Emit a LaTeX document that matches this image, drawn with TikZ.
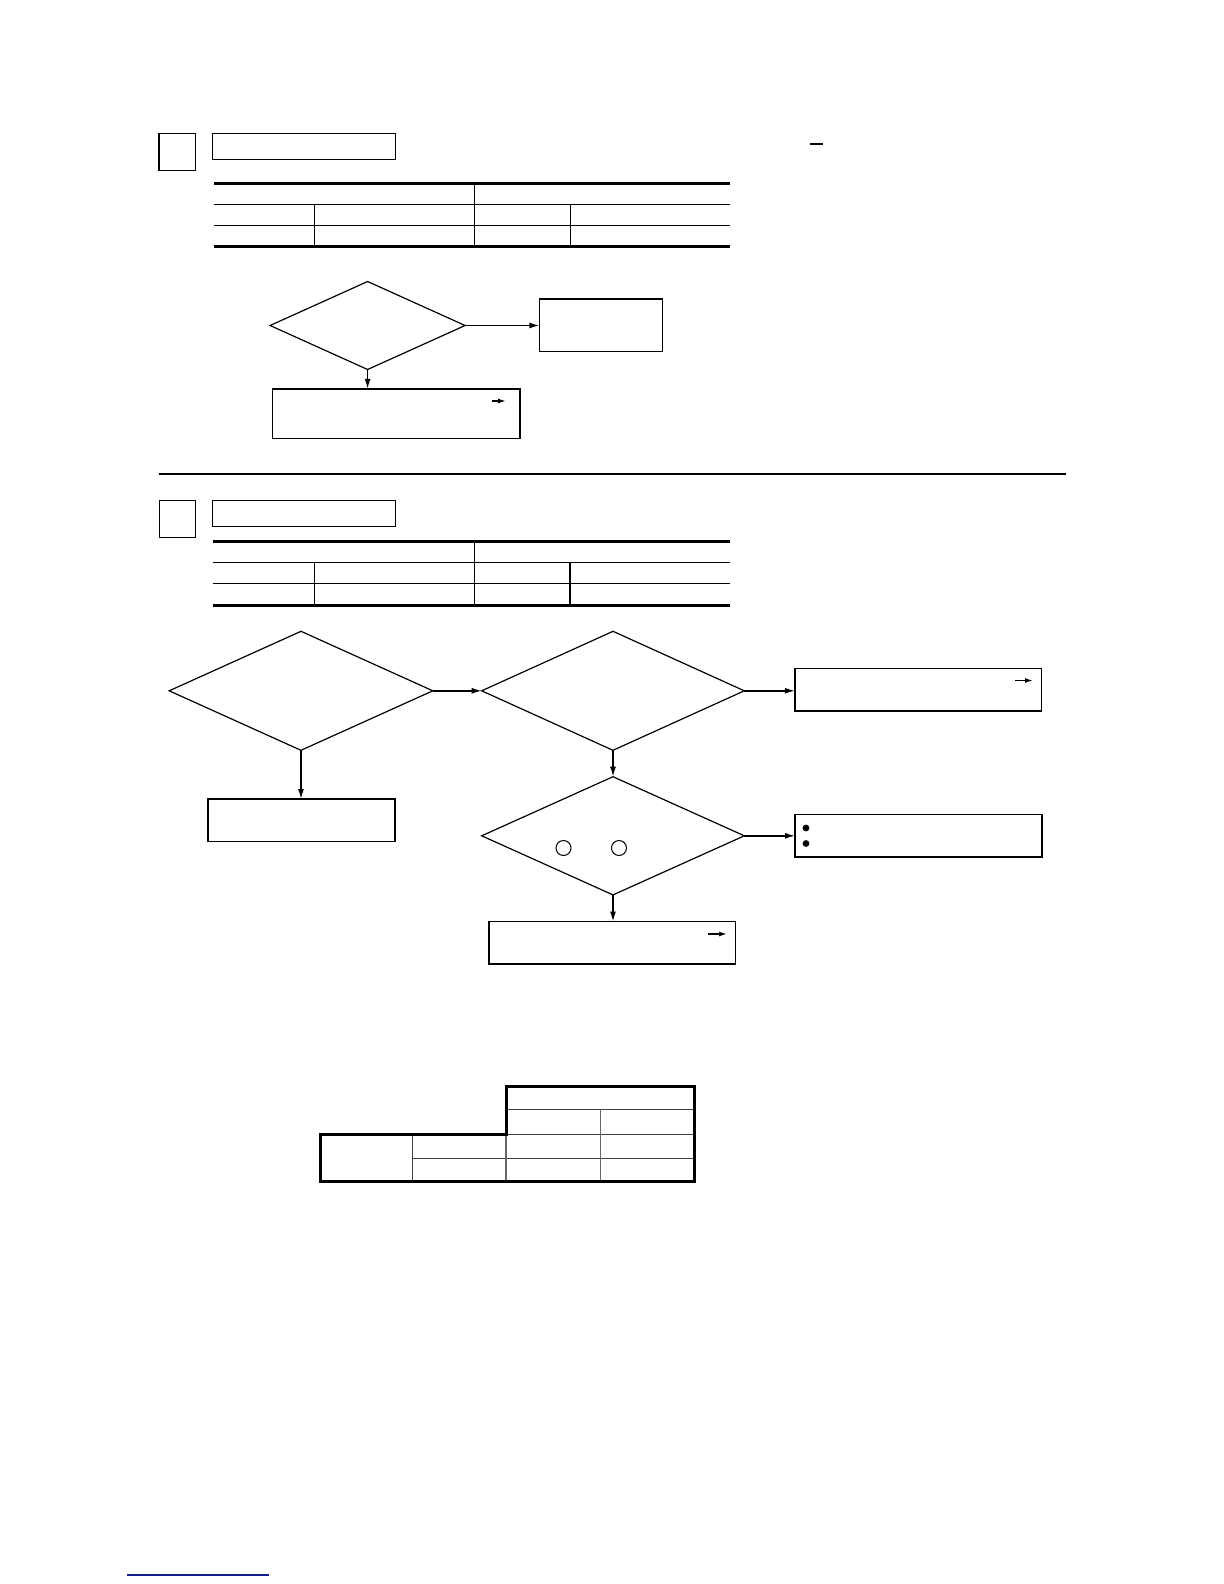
\documentclass[tikz,border=0pt]{standalone}
\usetikzlibrary{shapes.geometric,arrows.meta}
\begin{document}
\begin{tikzpicture}[x=0.5pt,y=-0.5pt,
  thin line/.style={line width=0.7pt},
  thick line/.style={line width=1.5pt},
  boxnode/.style={draw,rectangle,line width=0.7pt,inner sep=0pt,outer sep=0pt},
  decision/.style={draw,diamond,line width=0.6pt,inner sep=0pt,outer sep=0pt},
  flow/.style={line width=0.7pt,-{Latex[length=5pt,width=3pt]}},
  tinyarrow/.style={line width=0.7pt,-{Latex[length=4pt,width=2.5pt]}}]
\useasboundingbox (0,0) rectangle (1224,1584);

% ---------- Section 1 ----------
\node[boxnode,minimum width=18.3pt,minimum height=18.7pt] (sq1) at (177.2,152) {};
\node[boxnode,minimum width=91.5pt,minimum height=13.2pt] (t1) at (304,146.5) {};
\coordinate (dA) at (810,144); \coordinate (dB) at (823,144);
\draw[thin line] (dA) -- (dB);

% table 1
\draw[thick line] (214,183) -- (730,183);
\draw[thin line] (214,204.3) -- (730,204.3);
\draw[thin line] (214,225.3) -- (730,225.3);
\draw[thick line] (214,246.5) -- (730,246.5);
\draw[thin line] (474.6,183) -- (474.6,246.5);
\draw[thin line] (314.3,204.3) -- (314.3,246.5);
\draw[thin line] (570.5,204.3) -- (570.5,246.5);

\node[decision,minimum width=97.5pt,minimum height=44pt] (D1) at (367.6,325.5) {};
\node[boxnode,minimum width=61.65pt,minimum height=26.25pt] (B1) at (601,325.25) {};
\node[boxnode,minimum width=123.65pt,minimum height=24.7pt] (B2) at (396.35,413.6) {};
\draw[flow] (D1.east) -- (D1.east -| B1.west);
\draw[flow] (D1.south) -- (D1.south |- B2.north);
\coordinate (a1s) at (492,401); \coordinate (a1e) at (506,401);
\draw[tinyarrow] (a1s) -- (a1e);

% separator
\coordinate (sepL) at (158.6,473.7); \coordinate (sepR) at (1065.5,473.7);
\draw[line width=1pt] (sepL) -- (sepR);

% ---------- Section 2 ----------
\node[boxnode,minimum width=18pt,minimum height=18.3pt] (sq2) at (177.4,519) {};
\node[boxnode,minimum width=91.5pt,minimum height=13pt] (t2) at (303.8,513.3) {};

% table 2
\draw[thick line] (213,541) -- (730,541);
\draw[thin line] (213,562.3) -- (730,562.3);
\draw[thin line] (213,583.3) -- (730,583.3);
\draw[thick line] (213,605) -- (730,605);
\draw[thin line] (474.5,541) -- (474.5,605);
\draw[thin line] (314.6,562.3) -- (314.6,605);
\draw[thin line] (569.8,562.3) -- (569.8,605);

\node[decision,minimum width=131.8pt,minimum height=59.5pt] (DA) at (301,690.8) {};
\node[decision,minimum width=131.3pt,minimum height=59.5pt] (DB) at (613,690.8) {};
\node[decision,minimum width=131.3pt,minimum height=59.1pt] (DC) at (613,835.8) {};
\node[boxnode,minimum width=123.2pt,minimum height=21.2pt] (R1) at (918.1,689.8) {};
\node[boxnode,minimum width=93.5pt,minimum height=21.15pt] (BA) at (301.5,820.15) {};
\node[boxnode,minimum width=123.5pt,minimum height=21.35pt] (R2) at (918.5,835.65) {};
\node[boxnode,minimum width=123.35pt,minimum height=21.15pt] (BC) at (612.15,942.65) {};

\draw[flow] (DA.east) -- (DB.west);
\draw[flow] (DB.east) -- (DB.east -| R1.west);
\draw[flow] (DA.south) -- (DA.south |- BA.north);
\draw[flow] (DB.south) -- (DC.north);
\draw[flow] (DC.east) -- (DC.east -| R2.west);
\draw[flow] (DC.south) -- (DC.south |- BC.north);

\node[draw,circle,line width=0.5pt,minimum size=7.5pt,inner sep=0pt] (c1) at (563.5,848) {};
\node[draw,circle,line width=0.5pt,minimum size=7.5pt,inner sep=0pt] (c2) at (619,848) {};
\node[fill,circle,minimum size=3.4pt,inner sep=0pt] (b1) at (806,828) {};
\node[fill,circle,minimum size=3.4pt,inner sep=0pt] (b2) at (806,843.5) {};

\coordinate (a2s) at (1015,680.5); \coordinate (a2e) at (1033,680.5);
\draw[tinyarrow] (a2s) -- (a2e);
\coordinate (a3s) at (708,934); \coordinate (a3e) at (727,934);
\draw[tinyarrow] (a3s) -- (a3e);

% ---------- bottom table ----------
\draw[thin line,black!75] (506,1109.3) -- (694,1109.3);
\draw[thin line,black!75] (506,1134.7) -- (694,1134.7);
\draw[thin line,black!75] (412.7,1158.3) -- (694,1158.3);
\draw[thin line,black!75] (412.7,1134.7) -- (412.7,1181.7);
\draw[thin line,black!60] (506,1134.7) -- (506,1181.7);
\draw[thin line,black!60] (600.7,1109.3) -- (600.7,1181.7);
\draw[thick line] (506,1134.7) -- (506,1086.7) -- (694,1086.7) -- (694,1181.7) -- (320,1181.7) -- (320,1134.7) -- cycle;

% blue line
\coordinate (blL) at (126.7,1575); \coordinate (blR) at (269,1575);
\draw[line width=0.6pt,color={rgb,255:red,20;green,30;blue,140}] (blL) -- (blR);
\end{tikzpicture}
\end{document}
